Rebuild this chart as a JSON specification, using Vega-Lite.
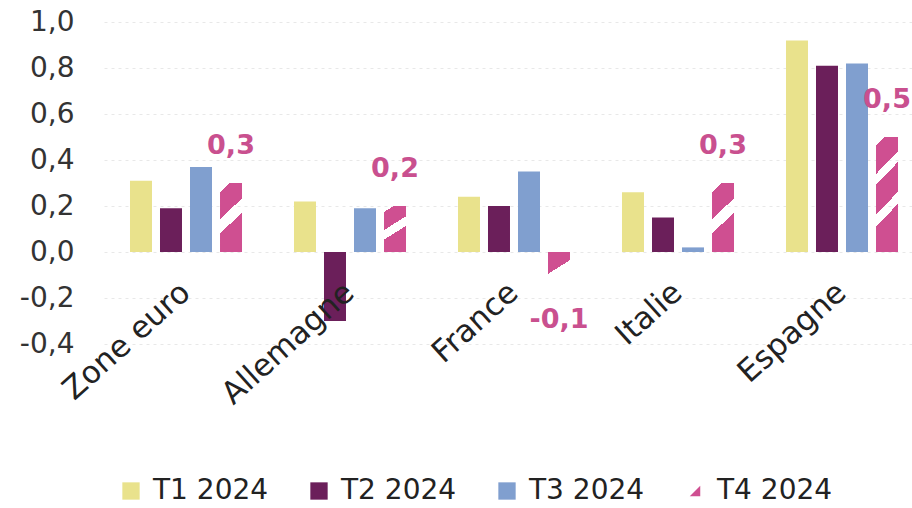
{
  "$schema": "https://vega.github.io/schema/vega-lite/v6.json",
  "autosize": "none",
  "width": 808,
  "height": 322,
  "padding": {"left": 104, "top": 22, "right": 0, "bottom": 164},
  "background": "white",
  "config": {
    "view": {"stroke": null},
    "font": "DejaVu Sans",
    "locale": {"number": {"decimal": ",", "thousands": " ", "grouping": [3], "currency": ["", " €"], "minus": "-"}}
  },
  "data": {
    "values": [
      {"pays": "Zone euro", "trimestre": "T1 2024", "valeur": 0.31},
      {"pays": "Zone euro", "trimestre": "T2 2024", "valeur": 0.19},
      {"pays": "Zone euro", "trimestre": "T3 2024", "valeur": 0.37},
      {"pays": "Zone euro", "trimestre": "T4 2024", "valeur": 0.3},
      {"pays": "Allemagne", "trimestre": "T1 2024", "valeur": 0.22},
      {"pays": "Allemagne", "trimestre": "T2 2024", "valeur": -0.3},
      {"pays": "Allemagne", "trimestre": "T3 2024", "valeur": 0.19},
      {"pays": "Allemagne", "trimestre": "T4 2024", "valeur": 0.2},
      {"pays": "France", "trimestre": "T1 2024", "valeur": 0.24},
      {"pays": "France", "trimestre": "T2 2024", "valeur": 0.2},
      {"pays": "France", "trimestre": "T3 2024", "valeur": 0.35},
      {"pays": "France", "trimestre": "T4 2024", "valeur": -0.1},
      {"pays": "Italie", "trimestre": "T1 2024", "valeur": 0.26},
      {"pays": "Italie", "trimestre": "T2 2024", "valeur": 0.15},
      {"pays": "Italie", "trimestre": "T3 2024", "valeur": 0.02},
      {"pays": "Italie", "trimestre": "T4 2024", "valeur": 0.3},
      {"pays": "Espagne", "trimestre": "T1 2024", "valeur": 0.92},
      {"pays": "Espagne", "trimestre": "T2 2024", "valeur": 0.81},
      {"pays": "Espagne", "trimestre": "T3 2024", "valeur": 0.82},
      {"pays": "Espagne", "trimestre": "T4 2024", "valeur": 0.5}
    ]
  },
  "encoding": {
    "x": {
      "field": "pays", "type": "nominal", "sort": null,
      "scale": {"paddingInner": 0.317, "paddingOuter": 0.1585, "range": [0, 820]},
      "axis": {
        "title": null, "domain": false, "ticks": false, "grid": false,
        "labelAngle": -42, "labelAlign": "right", "labelBaseline": "middle",
        "labelFontSize": 31, "labelColor": "#222",
        "labelPadding": 2, "offset": -58, "labelOverlap": false, "labelBound": false, "labelFlush": false,
        "zindex": 1
      }
    },
    "xOffset": {
      "field": "trimestre", "type": "nominal",
      "scale": {"domain": ["T1 2024", "T2 2024", "T3 2024", "T4 2024"], "paddingInner": 0.267, "paddingOuter": 0}
    },
    "y": {
      "field": "valeur", "type": "quantitative",
      "scale": {"domain": [-0.4, 1.0], "nice": false, "zero": false},
      "axis": {
        "title": null, "domain": false, "ticks": false,
        "values": [-0.4, -0.2, 0, 0.2, 0.4, 0.6, 0.8, 1.0],
        "format": ".1f", "labelFontSize": 28, "labelColor": "#333",
        "labelPadding": 30, "grid": true, "gridColor": "#e8e8e8", "gridDash": [3, 4], "gridWidth": 1
      }
    }
  },
  "layer": [
    {
      "mark": {"type": "bar"},
      "encoding": {
        "color": {
          "field": "trimestre", "type": "nominal",
          "scale": {"domain": ["T1 2024", "T2 2024", "T3 2024", "T4 2024"], "range": ["#e9e28c", "#6b1f5a", "#809fcf", "#cf4f91"]},
          "legend": {
            "title": null, "orient": "none", "legendX": 13, "legendY": 455, "direction": "horizontal",
            "labelFontSize": 28, "labelColor": "#222", "labelOffset": 8,
            "symbolType": "square", "symbolSize": 300, "symbolStrokeWidth": 0, "columnPadding": 36,
            "encode": {
              "symbols": {
                "update": {
                  "shape": {"signal": "datum.label === 'T4 2024' ? 'M1,-1L1,1L-1,1Z' : 'square'"},
                  "size": {"signal": "datum.label === 'T4 2024' ? 110 : 300"}
                }
              }
            }
          }
        },
        "fillOpacity": {"condition": {"test": "datum.trimestre === 'T4 2024'", "value": 0}, "value": 1}
      }
    },
    {
      "transform": [{"filter": "datum.trimestre === 'T4 2024' && datum.valeur > 0 && datum.valeur < 0.45"}],
      "mark": {
        "type": "bar",
        "fill": {
          "gradient": "linear", "x1": 0.3, "y1": 1, "x2": 0, "y2": 0,
          "stops": [
            {"offset": 0, "color": "#cf4f91"},
            {"offset": 0.33, "color": "#cf4f91"},
            {"offset": 0.33, "color": "rgba(255,255,255,0)"},
            {"offset": 0.52, "color": "rgba(255,255,255,0)"},
            {"offset": 0.52, "color": "#cf4f91"},
            {"offset": 0.88, "color": "#cf4f91"},
            {"offset": 0.88, "color": "rgba(255,255,255,0)"},
            {"offset": 1, "color": "rgba(255,255,255,0)"}
          ]
        }
      },
      "encoding": {}
    },
    {
      "transform": [{"filter": "datum.trimestre === 'T4 2024' && datum.valeur >= 0.45"}],
      "mark": {
        "type": "bar",
        "fill": {
          "gradient": "linear", "x1": 0.2, "y1": 1, "x2": 0, "y2": 0,
          "stops": [
            {"offset": 0, "color": "#cf4f91"},
            {"offset": 0.25, "color": "#cf4f91"},
            {"offset": 0.25, "color": "rgba(255,255,255,0)"},
            {"offset": 0.35, "color": "rgba(255,255,255,0)"},
            {"offset": 0.35, "color": "#cf4f91"},
            {"offset": 0.6, "color": "#cf4f91"},
            {"offset": 0.6, "color": "rgba(255,255,255,0)"},
            {"offset": 0.69, "color": "rgba(255,255,255,0)"},
            {"offset": 0.69, "color": "#cf4f91"},
            {"offset": 0.93, "color": "#cf4f91"},
            {"offset": 0.93, "color": "rgba(255,255,255,0)"},
            {"offset": 1, "color": "rgba(255,255,255,0)"}
          ]
        }
      },
      "encoding": {}
    },
    {
      "transform": [{"filter": "datum.trimestre === 'T4 2024' && datum.valeur < 0"}],
      "mark": {
        "type": "bar",
        "fill": {
          "gradient": "linear", "x1": 0.6, "y1": 1, "x2": 0, "y2": 0,
          "stops": [
            {"offset": 0, "color": "rgba(255,255,255,0)"},
            {"offset": 0.3, "color": "rgba(255,255,255,0)"},
            {"offset": 0.3, "color": "#cf4f91"},
            {"offset": 1, "color": "#cf4f91"}
          ]
        }
      },
      "encoding": {}
    },
    {
      "transform": [{"filter": "datum.trimestre === 'T4 2024' && datum.valeur > 0"}],
      "mark": {"type": "text", "dy": -37, "fontSize": 27, "fontWeight": "bold", "color": "#c9508f"},
      "encoding": {"text": {"field": "valeur", "type": "quantitative", "format": ".1f"}}
    },
    {
      "transform": [{"filter": "datum.trimestre === 'T4 2024' && datum.valeur < 0"}],
      "mark": {"type": "text", "dy": 45, "fontSize": 27, "fontWeight": "bold", "color": "#c9508f"},
      "encoding": {"text": {"field": "valeur", "type": "quantitative", "format": ".1f"}}
    }
  ]
}
